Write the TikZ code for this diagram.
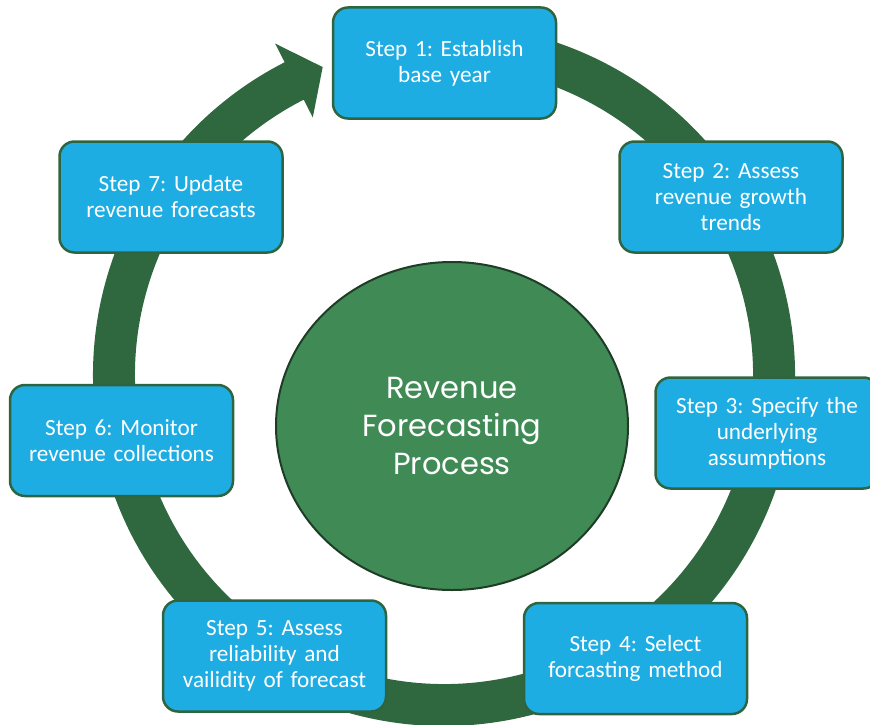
\documentclass[tikz,border=0pt]{standalone}
\usepackage{fontspec}
\usetikzlibrary{shapes.geometric}
\setmainfont{Carlito}
\newfontfamily\centerfont{Poppins}
\definecolor{boxfill}{HTML}{1EADE3}
\definecolor{boxline}{HTML}{2E6540}
\definecolor{ringc}{HTML}{2F683E}
\definecolor{hubfill}{HTML}{408A56}
\definecolor{hubline}{HTML}{1F3D26}
\frenchspacing
\begin{document}
\begin{tikzpicture}[x=1pt,y=-1pt,
  stepbox/.style={draw=boxline, line width=2.5pt, fill=boxfill, rounded corners=15pt,
    minimum width=223pt, minimum height=111pt, inner sep=0pt, text=white,
    align=center, text width=215pt, font=\fontsize{23.2}{26}\selectfont},
  hub/.style={draw=hubline, line width=2pt, fill=hubfill, ellipse, text=white,
    minimum width=352pt, minimum height=328pt, inner sep=0pt, align=center,
    font=\centerfont\fontsize{30.5}{38}\selectfont}]
\useasboundingbox (0,0) rectangle (870,725);
% ring arrow (angles measured with y pointing down)
\begin{scope}[shift={(444,375)}]
  \fill[ringc] (-100:351) arc[start angle=-100, end angle=243, radius=351]
    -- (243:372) -- (248.5:331) -- (243:289) -- (243:309)
    arc[start angle=243, end angle=-100, radius=309] -- cycle;
\end{scope}
\node[hub] (hub) at (452,426) {Revenue\\Forecasting\\Process};
\node[stepbox] (b1) at (444.5,63) {Step 1: Establish\\base year};
\node[stepbox] (b2) at (731,197) {Step 2: Assess\\revenue growth\\trends};
\node[stepbox] (b3) at (767,433) {Step 3: Specify the\\underlying\\assumptions};
\node[stepbox] (b4) at (635.5,658.5) {Step 4: Select\\forcasting method};
\node[stepbox] (b5) at (274.5,656) {Step 5: Assess\\reliability and\\vailidity of forecast};
\node[stepbox] (b6) at (121.5,440.5) {Step 6: Monitor\\revenue collections};
\node[stepbox] (b7) at (171,197) {Step 7: Update\\revenue forecasts};
\end{tikzpicture}
\end{document}
